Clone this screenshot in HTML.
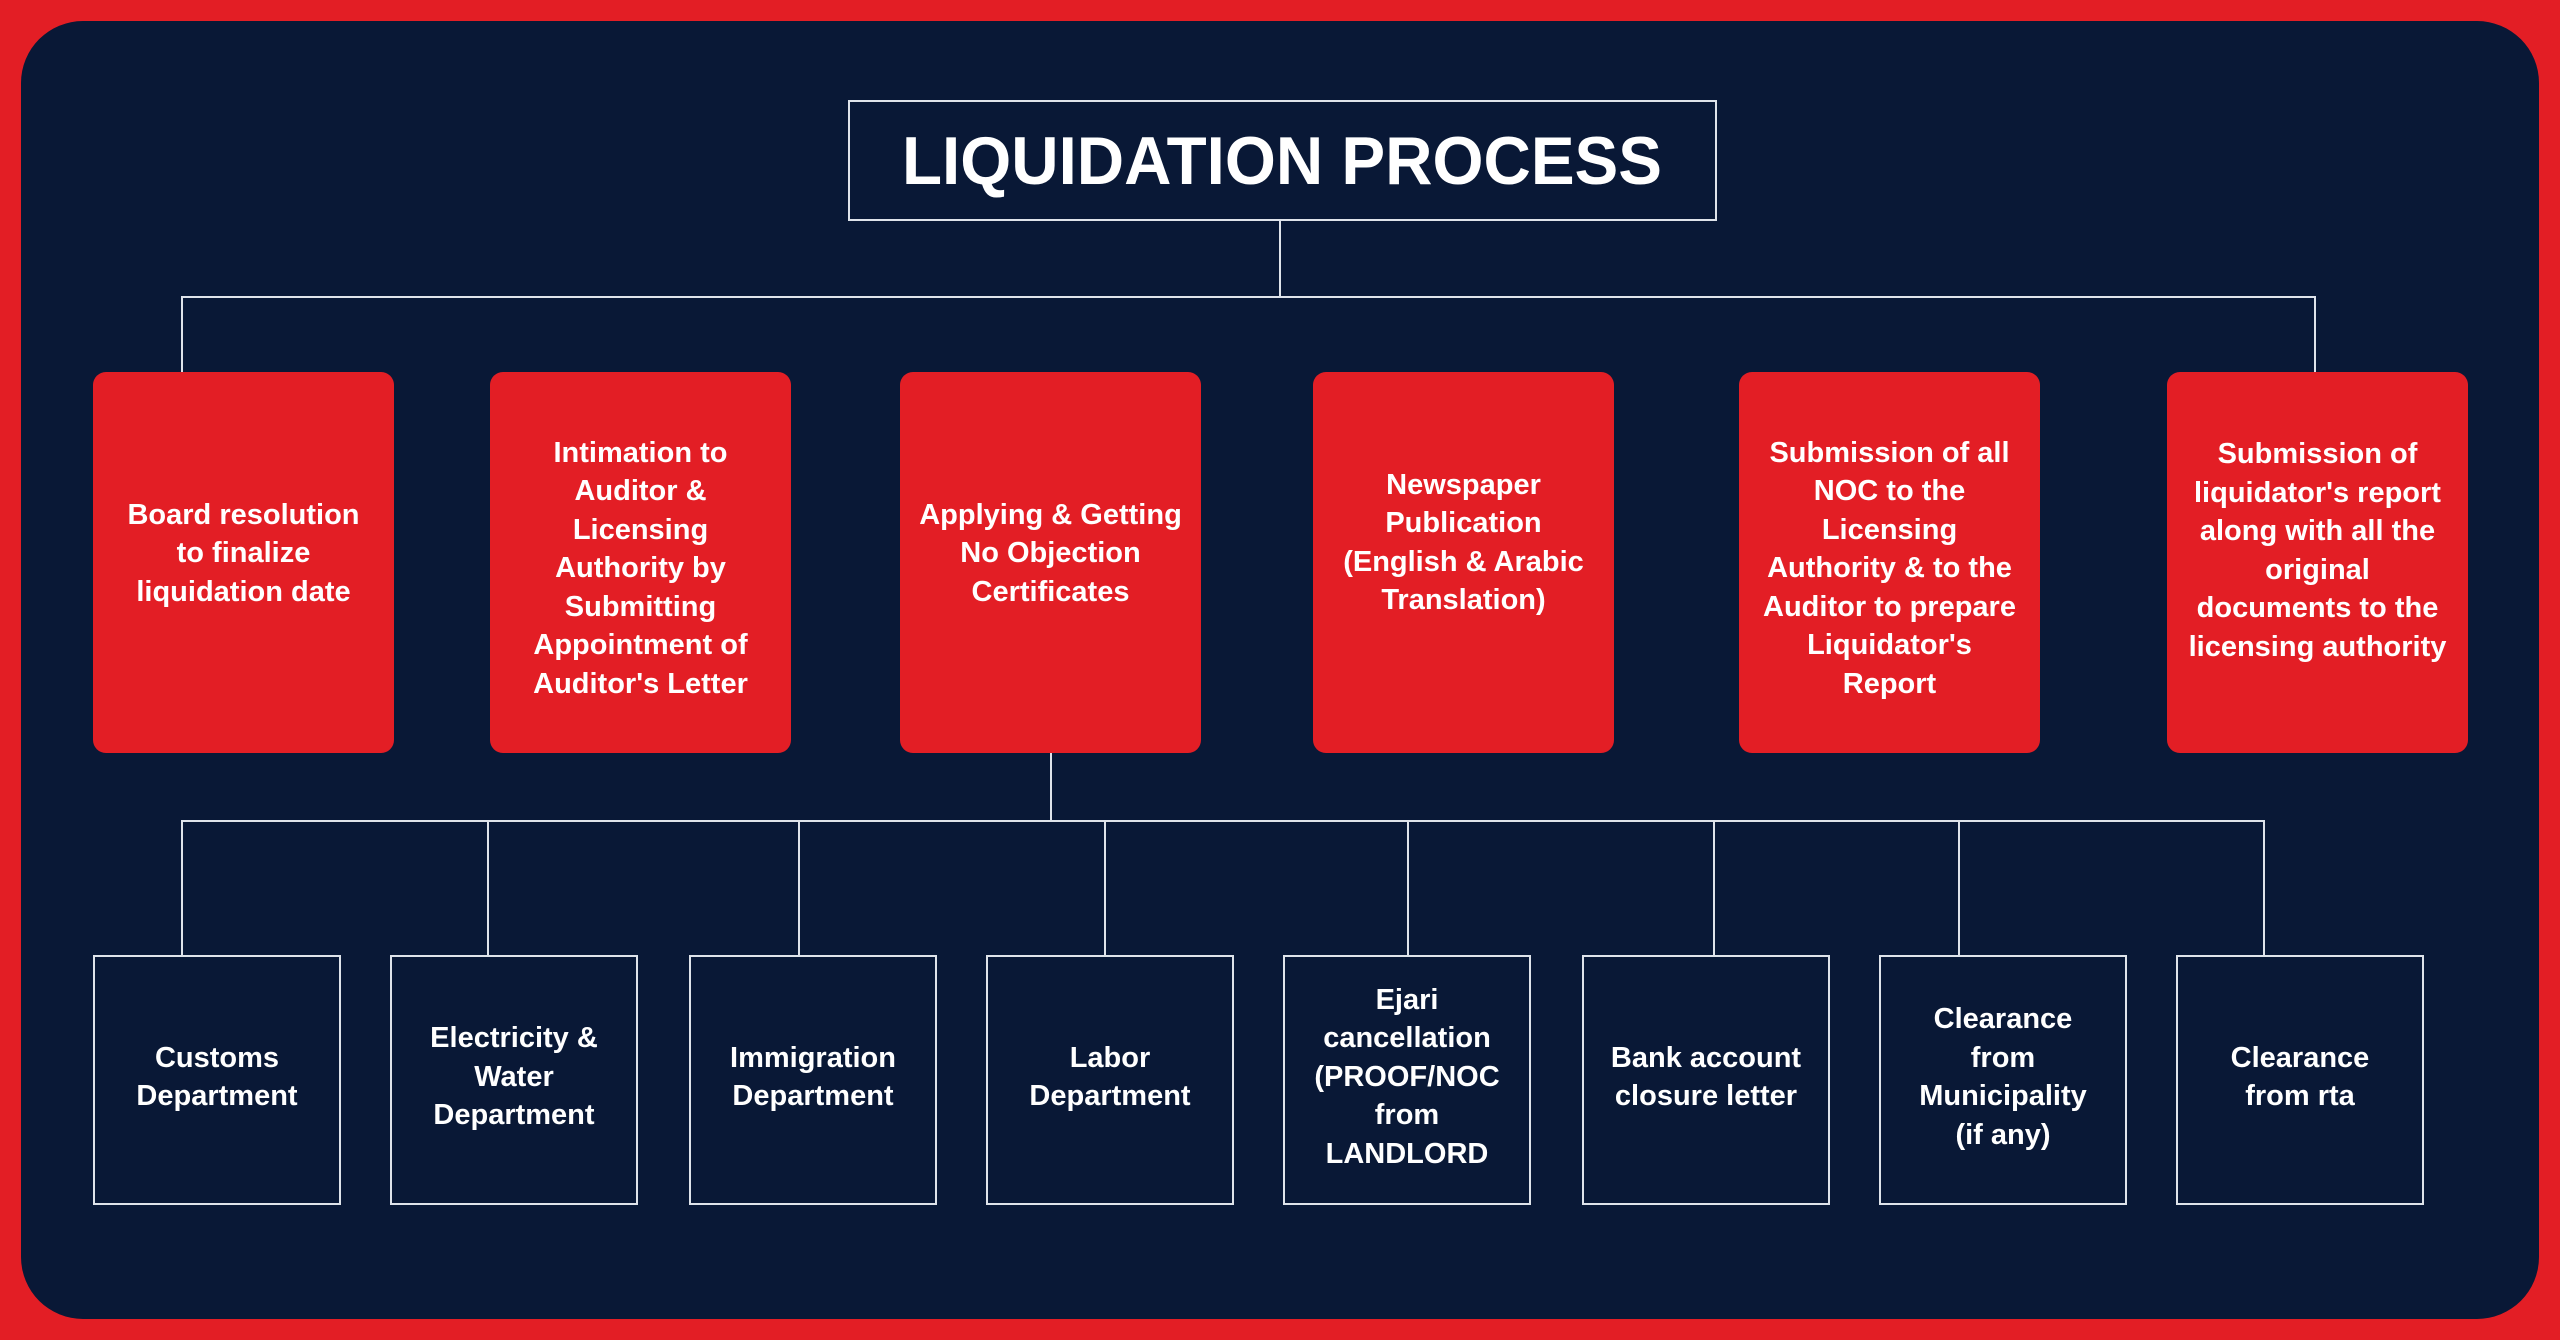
<!DOCTYPE html>
<html><head><meta charset="utf-8"><style>
html,body{margin:0;padding:0;}
body{width:2560px;height:1340px;background:#e31e25;position:relative;overflow:hidden;font-family:"Liberation Sans",sans-serif;}
.panel{position:absolute;left:21px;top:21px;width:2518px;height:1298px;background:#091836;border-radius:62px;}
.ln{position:absolute;background:#dfe3ea;}
.r{position:absolute;top:372px;width:301px;height:381px;background:#e31e25;border-radius:13px;color:#fff;font-weight:bold;font-size:29px;line-height:38.5px;text-align:center;display:flex;align-items:center;justify-content:center;box-sizing:border-box;padding-bottom:18px;white-space:nowrap;}
.b{position:absolute;top:955px;width:248px;height:250px;border:2px solid #dfe3ea;box-sizing:border-box;color:#fff;font-weight:bold;font-size:29px;line-height:38.5px;text-align:center;display:flex;align-items:center;justify-content:center;white-space:nowrap;padding-bottom:6px;}
</style></head><body>
<div class="panel"></div>
<svg style="position:absolute;left:0;top:0" width="2560" height="1340">
<rect x="849" y="101" width="867" height="119" fill="none" stroke="#dfe3ea" stroke-width="2"/>
<text x="1282" y="184" text-anchor="middle" font-family="Liberation Sans, sans-serif" font-weight="bold" font-size="68" fill="#fff" textLength="760" lengthAdjust="spacingAndGlyphs">LIQUIDATION PROCESS</text>
</svg>
<div class="ln" style="left:1279px;top:220px;width:2px;height:78px"></div>
<div class="ln" style="left:181px;top:296px;width:2135px;height:2px"></div>
<div class="ln" style="left:181px;top:296px;width:2px;height:77px"></div>
<div class="ln" style="left:2314px;top:296px;width:2px;height:77px"></div>
<div class="ln" style="left:1050px;top:753px;width:2px;height:69px"></div>
<div class="ln" style="left:181px;top:820px;width:2084px;height:2px"></div>
<div class="ln" style="left:181px;top:820px;width:2px;height:135px"></div>
<div class="ln" style="left:487px;top:820px;width:2px;height:135px"></div>
<div class="ln" style="left:798px;top:820px;width:2px;height:135px"></div>
<div class="ln" style="left:1104px;top:820px;width:2px;height:135px"></div>
<div class="ln" style="left:1407px;top:820px;width:2px;height:135px"></div>
<div class="ln" style="left:1713px;top:820px;width:2px;height:135px"></div>
<div class="ln" style="left:1958px;top:820px;width:2px;height:135px"></div>
<div class="ln" style="left:2263px;top:820px;width:2px;height:135px"></div>

<div class="r" style="left:93px">Board resolution<br>to finalize<br>liquidation date</div>
<div class="r" style="left:490px;padding-bottom:0;padding-top:12px">Intimation to<br>Auditor &amp;<br>Licensing<br>Authority by<br>Submitting<br>Appointment of<br>Auditor's Letter</div>
<div class="r" style="left:900px">Applying &amp; Getting<br>No Objection<br>Certificates</div>
<div class="r" style="left:1313px;padding-bottom:40px">Newspaper<br>Publication<br>(English &amp; Arabic<br>Translation)</div>
<div class="r" style="left:1739px;padding-bottom:0;padding-top:12px">Submission of all<br>NOC to the<br>Licensing<br>Authority &amp; to the<br>Auditor to prepare<br>Liquidator's<br>Report</div>
<div class="r" style="left:2167px;padding-bottom:24px">Submission of<br>liquidator's report<br>along with all the<br>original<br>documents to the<br>licensing authority</div>

<div class="b" style="left:93px">Customs<br>Department</div>
<div class="b" style="left:390px">Electricity &amp;<br>Water<br>Department</div>
<div class="b" style="left:689px">Immigration<br>Department</div>
<div class="b" style="left:986px">Labor<br>Department</div>
<div class="b" style="left:1283px">Ejari<br>cancellation<br>(PROOF/NOC<br>from<br>LANDLORD</div>
<div class="b" style="left:1582px">Bank account<br>closure letter</div>
<div class="b" style="left:1879px">Clearance<br>from<br>Municipality<br>(if any)</div>
<div class="b" style="left:2176px">Clearance<br>from rta</div>
</body></html>
